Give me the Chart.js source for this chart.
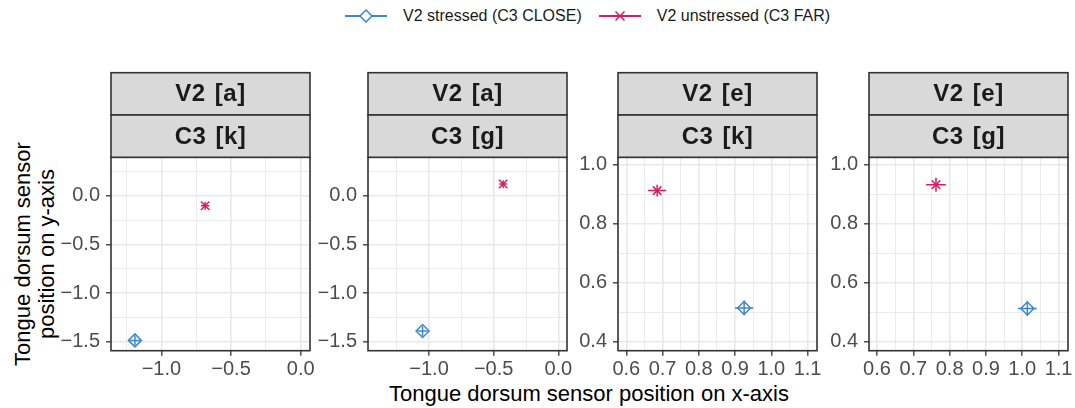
<!DOCTYPE html>
<html>
<head>
<meta charset="utf-8">
<script src="https://cdn.jsdelivr.net/npm/chart.js@4.4.1/dist/chart.umd.min.js"></script>
<style>
  body { margin: 0; background: #fff; width: 1075px; height: 408px; position: relative; overflow: hidden;
         font-family: "Liberation Sans", Arial, sans-serif; }
  canvas.panel { position: absolute; top: 60px; }
  #legend { position: absolute; top: 5px; left: 344px; height: 22px; display: flex; align-items: center;
            font-size: 16px; color: #1a1a1a; white-space: nowrap; }
  #legend .item { display: flex; align-items: center; }
  #legend svg { margin-right: 15px; }
  #xtitle { position: absolute; left: 589px; top: 394px; transform: translate(-50%, -50%);
            font-size: 22px; color: #000; white-space: nowrap; }
  #ytitle { position: absolute; left: 35px; top: 254px; transform: translate(-50%, -50%) rotate(-90deg);
            font-size: 22px; line-height: 24px; color: #000; text-align: center; white-space: nowrap; }
</style>
</head>
<body>
<div id="legend">
  <div class="item">
    <svg width="44" height="16"><line x1="1" y1="8" x2="43" y2="8" stroke="#3C87D0" stroke-width="2"/>
      <path d="M22 2 L28 8 L22 14 L16 8 Z" fill="#fff" stroke="#3C87D0" stroke-width="1.5"/></svg>
    <span>V2 stressed (C3 CLOSE)</span>
  </div>
  <div class="item" style="margin-left:16px">
    <svg width="44" height="16"><line x1="1" y1="8" x2="43" y2="8" stroke="#DC1A62" stroke-width="2"/>
      <path d="M17.5 3.5 L26.5 12.5 M26.5 3.5 L17.5 12.5" stroke="#DC1A62" stroke-width="1.5"/></svg>
    <span>V2 unstressed (C3 FAR)</span>
  </div>
</div>
<div id="xtitle">Tongue dorsum sensor position on x-axis</div>
<div id="ytitle">Tongue dorsum sensor<br>position on y-axis</div>

<script>
// facet strip labels
const v2Labels = ['V2 [a]', 'V2 [a]', 'V2 [e]', 'V2 [e]'];
const c3Labels = ['C3 [k]', 'C3 [g]', 'C3 [k]', 'C3 [g]'];

// V2 stressed (C3 CLOSE)
const stressedX = [-1.19, -1.05, 0.925, 1.014];
const stressedY = [-1.486, -1.39, 0.515, 0.513];
const stressedXErr = [0.036, 0.039, 0.025, 0.026];
const stressedYErr = [0.05, 0.05, 0.025, 0.025];

// V2 unstressed (C3 FAR)
const unstressedX = [-0.686, -0.427, 0.685, 0.7625];
const unstressedY = [-0.103, 0.12, 0.913, 0.933];
const unstressedXErr = [0.03, 0.03, 0.025, 0.027];
const unstressedYErr = [0.04, 0.04, 0.02, 0.024];

// axis ranges
const xMin = [-1.362, -1.472, 0.577, 0.578];
const xMax = [0.067, 0.067, 1.126, 1.126];
const yMin = [-1.592, -1.592, 0.370, 0.370];
const yMax = [0.395, 0.395, 1.026, 1.026];

// ticks (major labelled, minor = grid only)
const xMajor = [[-1, -0.5, 0], [-1, -0.5, 0], [0.6, 0.7, 0.8, 0.9, 1.0, 1.1], [0.6, 0.7, 0.8, 0.9, 1.0, 1.1]];
const xMinor = [[-1.25, -0.75, -0.25], [-1.25, -0.75, -0.25], [0.65, 0.75, 0.85, 0.95, 1.05], [0.65, 0.75, 0.85, 0.95, 1.05]];
const yMajor = [[-1.5, -1, -0.5, 0], [-1.5, -1, -0.5, 0], [0.4, 0.6, 0.8, 1.0], [0.4, 0.6, 0.8, 1.0]];
const yMinor = [[-1.25, -0.75, -0.25, 0.25], [-1.25, -0.75, -0.25, 0.25], [0.5, 0.7, 0.9], [0.5, 0.7, 0.9]];

const BLUE = '#3C87D0';
const PINK = '#DC1A62';
const panelLeft = [111, 368, 618, 869];
const panelWidth = 199;
const Y_AXIS_W = 70;
const PAD_RIGHT = 24;
const STRIP_H = 42.3;

function fmt(v) {
    return v.toFixed(1).replace('-', '\u2212');
}

function tickList(major, minor) {
    const list = major.map(v => ({ value: v }))
        .concat(minor.map(v => ({ value: v, minor: true })));
    list.sort((a, b) => a.value - b.value);
    return list;
}

const errorBars = {
    id: 'errorBars',
    beforeDatasetsDraw(chart) {
        const { ctx, scales: { x, y } } = chart;
        ctx.save();
        ctx.lineWidth = 1.5;
        chart.data.datasets.forEach(ds => {
            ctx.strokeStyle = ds.borderColor;
            ds.data.forEach(p => {
                ctx.beginPath();
                ctx.moveTo(x.getPixelForValue(p.x - p.ex), y.getPixelForValue(p.y));
                ctx.lineTo(x.getPixelForValue(p.x + p.ex), y.getPixelForValue(p.y));
                ctx.moveTo(x.getPixelForValue(p.x), y.getPixelForValue(p.y - p.ey));
                ctx.lineTo(x.getPixelForValue(p.x), y.getPixelForValue(p.y + p.ey));
                ctx.stroke();
            });
        });
        ctx.restore();
    }
};

const frame = {
    id: 'frame',
    afterDraw(chart, args, opts) {
        const { ctx, chartArea: a } = chart;
        ctx.save();
        ctx.strokeStyle = '#333333';
        ctx.lineWidth = 1.6;
        ctx.strokeRect(a.left, a.top, a.right - a.left, a.bottom - a.top);
        const labels = [opts.top, opts.bottom];
        labels.forEach((txt, k) => {
            const t = a.top - STRIP_H * (2 - k);
            ctx.fillStyle = '#D9D9D9';
            ctx.fillRect(a.left, t, a.right - a.left, STRIP_H);
            ctx.strokeRect(a.left, t, a.right - a.left, STRIP_H);
            ctx.fillStyle = '#1A1A1A';
            ctx.font = 'bold 24px "Liberation Sans", Arial, sans-serif';
            ctx.letterSpacing = '0.5px';
            ctx.wordSpacing = '2px';
            ctx.textAlign = 'center';
            ctx.textBaseline = 'middle';
            ctx.fillText(txt, (a.left + a.right) / 2, t + STRIP_H / 2 + 1);
        });
        ctx.restore();
    }
};

function axisOpts(min, max, ticks, isX) {
    return {
        type: 'linear',
        min: min,
        max: max,
        afterBuildTicks: scale => { scale.ticks = ticks; },
        afterFit: scale => {
            if (isX) scale.height = 39.3;
            else scale.width = Y_AXIS_W;
        },
        border: { display: false },
        grid: {
            color: '#E9E9E9',
            lineWidth: c => (c.tick && c.tick.minor) ? 0.9 : 1.6,
            tickColor: c => (c.tick && c.tick.minor) ? 'rgba(0,0,0,0)' : '#333333',
            tickWidth: 1.3,
            tickLength: 5
        },
        ticks: {
            autoSkip: false,
            maxRotation: 0,
            padding: isX ? 2 : 6,
            color: '#4D4D4D',
            font: { family: '"Liberation Sans", Arial, sans-serif', size: 20 },
            callback: (v, i, t) => t[i].minor ? '' : fmt(v)
        }
    };
}

for (let i = 0; i < 4; i++) {
    const cv = document.createElement('canvas');
    cv.className = 'panel';
    cv.width = panelWidth + Y_AXIS_W + PAD_RIGHT;
    cv.height = 330;
    cv.style.left = (panelLeft[i] - Y_AXIS_W) + 'px';
    document.body.appendChild(cv);

    new Chart(cv.getContext('2d'), {
        type: 'scatter',
        data: {
            datasets: [{
                label: 'V2 stressed (C3 CLOSE)',
                data: [{ x: stressedX[i], y: stressedY[i], ex: stressedXErr[i], ey: stressedYErr[i] }],
                borderColor: BLUE,
                backgroundColor: 'rgba(255,255,255,0)',
                pointStyle: 'rectRot',
                pointRadius: 6.5,
                pointBorderWidth: 1.5
            }, {
                label: 'V2 unstressed (C3 FAR)',
                data: [{ x: unstressedX[i], y: unstressedY[i], ex: unstressedXErr[i], ey: unstressedYErr[i] }],
                borderColor: PINK,
                backgroundColor: PINK,
                pointStyle: 'crossRot',
                pointRadius: 6,
                pointBorderWidth: 1.5
            }]
        },
        options: {
            responsive: false,
            animation: false,
            layout: { padding: { left: 0, right: PAD_RIGHT, top: 97.3, bottom: 0 } },
            scales: {
                x: axisOpts(xMin[i], xMax[i], tickList(xMajor[i], xMinor[i]), true),
                y: axisOpts(yMin[i], yMax[i], tickList(yMajor[i], yMinor[i]), false)
            },
            plugins: {
                legend: { display: false },
                tooltip: { enabled: false },
                frame: { top: v2Labels[i], bottom: c3Labels[i] }
            }
        },
        plugins: [errorBars, frame]
    });
}
</script>
</body>
</html>
